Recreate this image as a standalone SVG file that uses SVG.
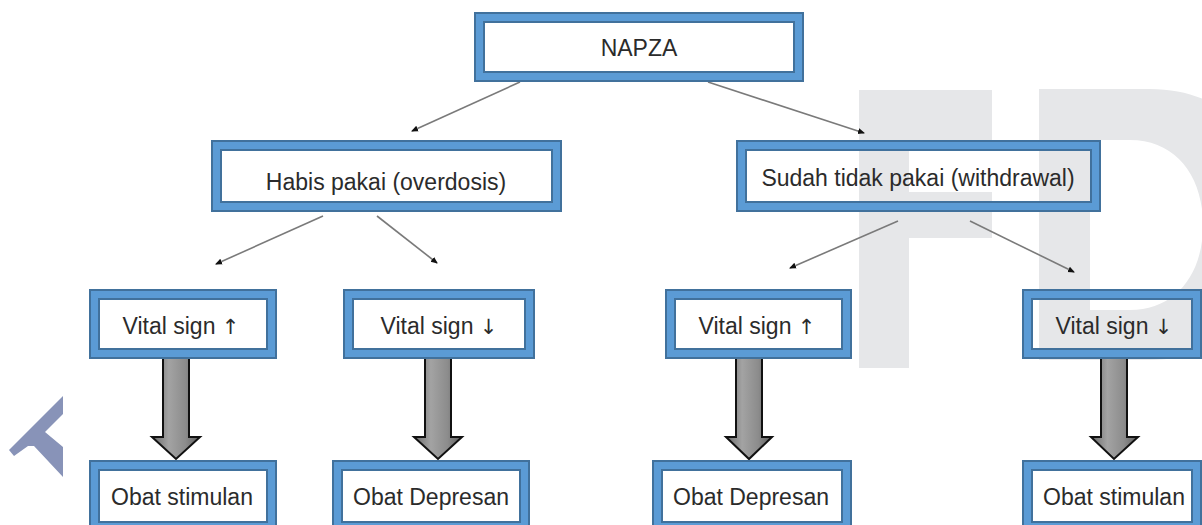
<svg xmlns="http://www.w3.org/2000/svg" width="1202" height="525" viewBox="0 0 1202 525">
<style>
.wm{fill:#e6e7e9}
.band{fill:none;stroke:#5b9bd5;stroke-width:11}
.edge{fill:none;stroke:#41719c;stroke-width:2}
.t{font-family:"Liberation Sans",Arial,sans-serif;font-size:23px;fill:#2b2b2b;text-anchor:middle}
.ar{font-family:"DejaVu Sans",sans-serif;font-size:21px;fill:#2b2b2b}
.conn{stroke:#7a7a7a;stroke-width:1.6;fill:none;marker-end:url(#ah)}
.blk{fill:url(#g);stroke:#111;stroke-width:2;stroke-linejoin:miter}
</style>
<defs>
<marker id="ah" markerWidth="8" markerHeight="8" refX="6" refY="4" orient="auto" markerUnits="userSpaceOnUse">
<path d="M0,1 L7,4 L0,7 Z" fill="#111"/>
</marker>
<linearGradient id="g" x1="0" y1="0" x2="1" y2="0">
<stop offset="0" stop-color="#6a6a6a"/>
<stop offset="0.35" stop-color="#a3a3a3"/>
<stop offset="0.7" stop-color="#8c8c8c"/>
<stop offset="1" stop-color="#5e5e5e"/>
</linearGradient>
</defs>
<rect width="1202" height="525" fill="#ffffff"/>
<g id="watermark">
<path class="wm" d="M859,90 H992 V145 H909 V192 H992 V238 H909 V368 H859 Z"/>
<path class="wm" fill-rule="evenodd" d="M1039,89 H1150 C1232,89 1278,150 1278,225 C1278,300 1232,360 1150,360 H1039 Z M1090,140 V310 H1130 C1175,310 1203,275 1203,225 C1203,175 1175,140 1130,140 Z"/>
<polygon points="63,396 9,450 14,456 28,446 34,446 63,477 63,447 45,432 63,414" fill="#8893b8"/>
</g>
<g id="connectors">
<line class="conn" x1="520" y1="82" x2="412" y2="131"/>
<line class="conn" x1="708" y1="82" x2="864" y2="133"/>
<line class="conn" x1="323" y1="216" x2="216" y2="264"/>
<line class="conn" x1="377" y1="216" x2="437" y2="263"/>
<line class="conn" x1="898" y1="221" x2="790" y2="268"/>
<line class="conn" x1="970" y1="221" x2="1074" y2="272"/>
<path class="blk" d="M163,357 H189 V437 H200 L176,459 L152,437 H163 Z"/>
<path class="blk" d="M425,357 H451 V437 H462 L438,459 L414,437 H425 Z"/>
<path class="blk" d="M736,357 H762 V437 H772 L749,459 L726,437 H736 Z"/>
<path class="blk" d="M1101,357 H1127 V437 H1138 L1114,459 L1091,437 H1101 Z"/>
</g>
<g id="napza">
<rect class="band" x="479.5" y="17.5" width="319" height="59"/>
<rect class="edge" x="475" y="13" width="328" height="68"/>
<rect class="edge" x="484" y="22" width="310" height="50"/>
<text class="t" x="639" y="56">NAPZA</text>
</g>
<g id="habis">
<rect class="band" x="216.5" y="145.5" width="340" height="61"/>
<rect class="edge" x="212" y="141" width="349" height="70"/>
<rect class="edge" x="221" y="150" width="331" height="52"/>
<text class="t" x="386" y="190">Habis pakai (overdosis)</text>
</g>
<g id="sudah">
<rect class="band" x="741.5" y="145.5" width="354" height="61"/>
<rect class="edge" x="737" y="141" width="363" height="70"/>
<rect class="edge" x="746" y="150" width="345" height="52"/>
<text class="t" x="918" y="186">Sudah tidak pakai (withdrawal)</text>
</g>
<g id="vital1">
<rect class="band" x="94.5" y="294.5" width="177" height="59"/>
<rect class="edge" x="90" y="290" width="186" height="68"/>
<rect class="edge" x="99" y="299" width="168" height="50"/>
<text class="t" x="181" y="334">Vital sign <tspan class="ar">↑</tspan></text>
</g>
<g id="vital2">
<rect class="band" x="348.5" y="294.5" width="181" height="59"/>
<rect class="edge" x="344" y="290" width="190" height="68"/>
<rect class="edge" x="353" y="299" width="172" height="50"/>
<text class="t" x="439" y="334">Vital sign <tspan class="ar">↓</tspan></text>
</g>
<g id="vital3">
<rect class="band" x="670.5" y="294.5" width="176" height="59"/>
<rect class="edge" x="666" y="290" width="185" height="68"/>
<rect class="edge" x="675" y="299" width="167" height="50"/>
<text class="t" x="757" y="334">Vital sign <tspan class="ar">↑</tspan></text>
</g>
<g id="vital4">
<rect class="band" x="1027.5" y="294.5" width="169" height="59"/>
<rect class="edge" x="1023" y="290" width="178" height="68"/>
<rect class="edge" x="1032" y="299" width="160" height="50"/>
<text class="t" x="1114" y="334">Vital sign <tspan class="ar">↓</tspan></text>
</g>
<g id="obat1">
<rect class="band" x="94.5" y="465.5" width="177" height="61"/>
<rect class="edge" x="90" y="461" width="186" height="70"/>
<rect class="edge" x="99" y="470" width="168" height="52"/>
<text class="t" x="182" y="505">Obat stimulan</text>
</g>
<g id="obat2">
<rect class="band" x="337.5" y="465.5" width="187" height="61"/>
<rect class="edge" x="333" y="461" width="196" height="70"/>
<rect class="edge" x="342" y="470" width="178" height="52"/>
<text class="t" x="431" y="505">Obat Depresan</text>
</g>
<g id="obat3">
<rect class="band" x="657.5" y="465.5" width="189" height="61"/>
<rect class="edge" x="653" y="461" width="198" height="70"/>
<rect class="edge" x="662" y="470" width="180" height="52"/>
<text class="t" x="751" y="505">Obat Depresan</text>
</g>
<g id="obat4">
<rect class="band" x="1027.5" y="465.5" width="169" height="61"/>
<rect class="edge" x="1023" y="461" width="178" height="70"/>
<rect class="edge" x="1032" y="470" width="160" height="52"/>
<text class="t" x="1114" y="505">Obat stimulan</text>
</g>
</svg>
